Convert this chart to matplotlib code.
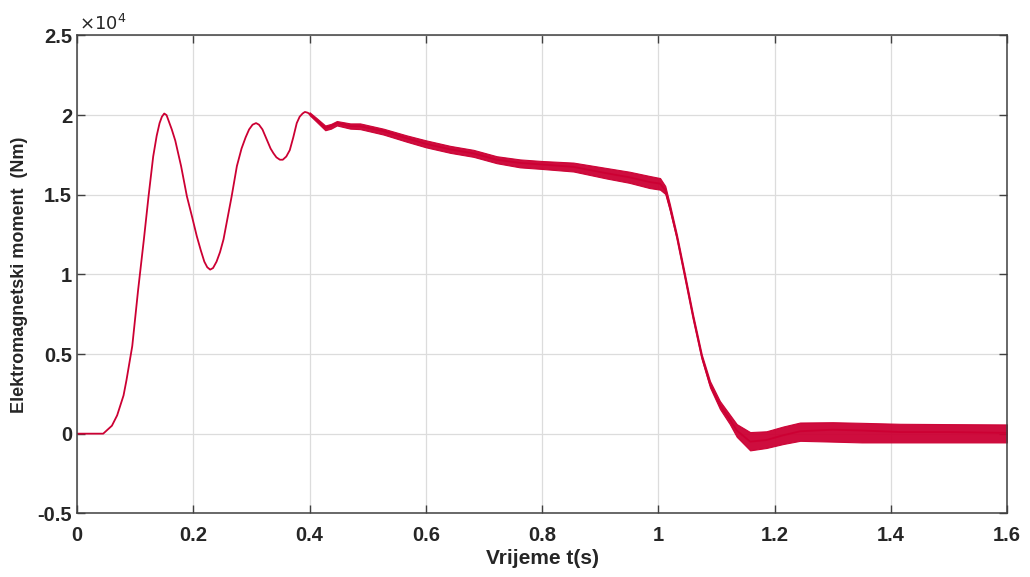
import matplotlib
matplotlib.use("Agg")
import matplotlib.pyplot as plt
from matplotlib.ticker import FuncFormatter

# torque curve, values in units of 1e4 Nm
t = [0, 0.045, 0.060, 0.069, 0.080, 0.085, 0.095, 0.105, 0.115, 0.123, 0.131,
     0.137, 0.142, 0.146, 0.150, 0.154, 0.158, 0.163, 0.169, 0.179, 0.189,
     0.198, 0.206, 0.213, 0.219, 0.224, 0.229, 0.234, 0.240, 0.246, 0.252,
     0.266, 0.275, 0.283, 0.290, 0.296, 0.302, 0.308, 0.313, 0.319, 0.326,
     0.333, 0.338, 0.343, 0.349, 0.354, 0.360, 0.366, 0.372, 0.378, 0.383,
     0.388, 0.392, 0.397, 0.402, 0.412, 0.427, 0.437, 0.447, 0.460, 0.470,
     0.487, 0.527, 0.567, 0.600, 0.642, 0.682, 0.722, 0.762, 0.800, 0.854,
     0.911, 0.950, 0.985, 1.003, 1.012, 1.020, 1.032, 1.046, 1.060, 1.075,
     1.089, 1.106, 1.123, 1.135, 1.158, 1.186, 1.215, 1.244, 1.300, 1.350,
     1.416, 1.500, 1.600]
torque = [0, 0, 0.05, 0.115, 0.24, 0.335, 0.55, 0.90, 1.22, 1.49, 1.74,
          1.87, 1.95, 1.99, 2.01, 2.00, 1.96, 1.91, 1.84, 1.68, 1.49,
          1.36, 1.24, 1.15, 1.08, 1.045, 1.03, 1.04, 1.08, 1.14, 1.22,
          1.49, 1.68, 1.79, 1.86, 1.91, 1.94, 1.95, 1.94, 1.91, 1.85,
          1.79, 1.76, 1.735, 1.72, 1.72, 1.74, 1.78, 1.86, 1.95, 1.99,
          2.01, 2.02, 2.015, 2.00, 1.97, 1.92, 1.93, 1.95, 1.94, 1.93,
          1.93, 1.90, 1.855, 1.82, 1.785, 1.76, 1.72, 1.70, 1.69, 1.675,
          1.635, 1.61, 1.58, 1.57, 1.53, 1.42, 1.235, 0.985, 0.73, 0.48,
          0.31, 0.18, 0.09, 0.02, -0.05, -0.04, -0.01, 0.015, 0.025, 0.02,
          0.01, 0.01, 0.005]

# ripple band (lower / upper edge of the dense oscillation)
band_t = [0.400, 0.412, 0.427, 0.437, 0.447, 0.470, 0.487, 0.527, 0.567, 0.600,
          0.642, 0.682, 0.722, 0.762, 0.800, 0.854, 0.911, 0.950, 0.985, 1.003,
          1.012, 1.020, 1.032, 1.046, 1.060, 1.075, 1.089, 1.106, 1.123, 1.135,
          1.158, 1.186, 1.215, 1.244, 1.300, 1.350, 1.416, 1.500, 1.600]
band_lo = [2.000, 1.958, 1.905, 1.915, 1.935, 1.915, 1.912, 1.878, 1.833, 1.798,
           1.763, 1.738, 1.698, 1.672, 1.662, 1.646, 1.602, 1.575, 1.542, 1.532,
           1.505, 1.40, 1.22, 0.97, 0.715, 0.465, 0.29, 0.155, 0.06, -0.02,
           -0.105, -0.09, -0.065, -0.045, -0.05, -0.055, -0.055, -0.055, -0.055]
band_hi = [2.018, 1.982, 1.935, 1.945, 1.963, 1.948, 1.948, 1.915, 1.873, 1.842,
           1.807, 1.782, 1.742, 1.722, 1.712, 1.702, 1.668, 1.645, 1.618, 1.605,
           1.555, 1.44, 1.25, 1.00, 0.745, 0.495, 0.33, 0.205, 0.12, 0.06,
           0.01, 0.015, 0.045, 0.07, 0.072, 0.068, 0.062, 0.06, 0.058]

x_ticks = [0, 0.2, 0.4, 0.6, 0.8, 1.0, 1.2, 1.4, 1.6]
y_ticks = [-0.5, 0, 0.5, 1, 1.5, 2, 2.5]

RED = "#cc0033"
AXC = "#404040"
TXT = "#262626"

plt.rcParams["font.family"] = ["Liberation Sans", "DejaVu Sans"]

fig = plt.figure(figsize=(10.3, 5.77), dpi=100)
ax = fig.add_axes([0.0748, 0.1104, 0.9029, 0.8281])

ax.fill_between(band_t, band_lo, band_hi, color=RED, lw=0.8, alpha=0.95)
ax.plot(t, torque, color=RED, lw=1.3)

ax.set_xlim(0, 1.6)
ax.set_ylim(-0.5, 2.5)
ax.set_xticks(x_ticks)
ax.set_yticks(y_ticks)
fmt = FuncFormatter(lambda v, _: f"{v:g}")
ax.xaxis.set_major_formatter(fmt)
ax.yaxis.set_major_formatter(fmt)
ax.grid(True, color="#dcdcdc", lw=0.9)
ax.set_axisbelow(True)
ax.tick_params(direction="in", length=6, width=1, colors=AXC, labelcolor=TXT,
               top=True, right=True, labelsize=14.5)
ax.tick_params(axis="x", pad=9)
for lab in ax.get_xticklabels() + ax.get_yticklabels():
    lab.set_fontweight("bold")
for s in ax.spines.values():
    s.set_color(AXC)
    s.set_linewidth(1.1)

ax.set_xlabel("Vrijeme t(s)", fontsize=15, fontweight="bold", labelpad=3, color=TXT)
ax.set_ylabel("Elektromagnetski moment  (Nm)", fontsize=13, fontweight="bold",
              labelpad=7, color=TXT)
ax.text(0.002, 1.004, r"$\times10^4$", transform=ax.transAxes, fontsize=13,
        ha="left", va="bottom", color=TXT)

fig.savefig("out.png", dpi=100)
